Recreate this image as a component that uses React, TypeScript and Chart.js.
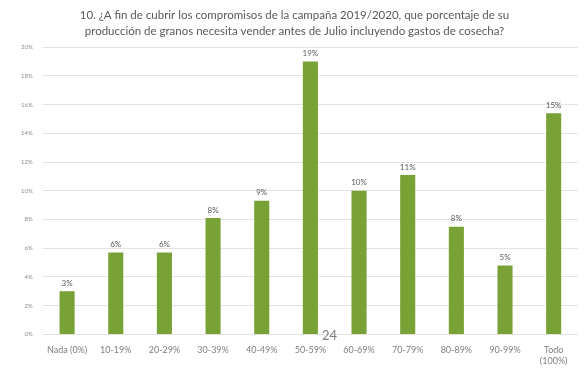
import React, { useEffect, useRef } from "react";
import { Chart, registerables } from "chart.js";

Chart.register(...registerables);

const titleLines = [
  "10. ¿A fin de cubrir los compromisos de la campaña 2019/2020, que porcentaje de su",
  "producción de granos necesita vender antes de Julio incluyendo gastos de cosecha?",
];
const categories: (string | string[])[] = [
  "Nada (0%)", "10-19%", "20-29%", "30-39%", "40-49%", "50-59%",
  "60-69%", "70-79%", "80-89%", "90-99%", ["Todo", "(100%)"],
];
const values = [3.0, 5.7, 5.7, 8.1, 9.3, 19.0, 10.0, 11.1, 7.5, 4.8, 15.4];
const pageNumber = "24";

const FONT = "Lato, 'Open Sans', sans-serif";

const labelPlugin = {
  id: "barLabels",
  afterDatasetsDraw(chart: any) {
    const ctx = chart.ctx;
    const meta = chart.getDatasetMeta(0);
    ctx.save();
    ctx.font = `8px ${FONT}`;
    ctx.fillStyle = "#595959";
    ctx.textAlign = "center";
    ctx.textBaseline = "bottom";
    meta.data.forEach((bar: any, i: number) => {
      ctx.fillText(Math.round(values[i]) + "%", bar.x, bar.y - 4);
    });
    ctx.restore();
  },
};

export default function App() {
  const ref = useRef<HTMLCanvasElement>(null);
  useEffect(() => {
    if (!ref.current) return;
    const chart = new Chart(ref.current, {
      type: "bar",
      data: {
        labels: categories,
        datasets: [
          {
            data: values,
            backgroundColor: "#78a136",
            barPercentage: 0.31,
            categoryPercentage: 1,
          },
        ],
      },
      options: {
        animation: false,
        responsive: true,
        maintainAspectRatio: false,
        layout: { padding: { left: 11, right: 6, top: 1, bottom: 11 } },
        plugins: {
          legend: { display: false },
          tooltip: { enabled: false },
          title: {
            display: true,
            text: titleLines,
            color: "#595959",
            font: { family: FONT, size: 11.5, weight: "normal" as any, lineHeight: 1.4 },
            padding: { top: 6, bottom: 8 },
          },
        },
        scales: {
          x: {
            grid: { display: false },
            border: { display: false },
            ticks: {
              color: "#7f7f7f",
              font: { family: FONT, size: 9 },
              maxRotation: 0,
              autoSkip: false,
              padding: 2,
            },
          },
          y: {
            min: 0,
            max: 20,
            grid: { color: "#e3e3e3", drawTicks: false },
            border: { display: false },
            ticks: {
              stepSize: 2,
              color: "#8c8c8c",
              font: { family: FONT, size: 6 },
              padding: 10,
              callback: (v: any) => v + "%",
            },
          },
        },
      },
      plugins: [labelPlugin],
    });
    return () => chart.destroy();
  }, []);
  return (
    <div style={{ position: "fixed", left: 0, top: 0, width: 584, height: 379, background: "#fff" }}>
      <canvas ref={ref} />
      <div
        style={{
          position: "absolute",
          left: 322,
          top: 327,
          fontFamily: FONT,
          fontSize: 13,
          color: "#7f7f7f",
        }}
      >
        {pageNumber}
      </div>
    </div>
  );
}
